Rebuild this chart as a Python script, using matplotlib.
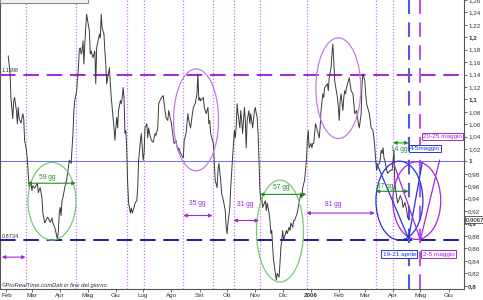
import pandas as pd
import matplotlib
matplotlib.use("Agg")
import matplotlib.pyplot as plt
import matplotlib.dates as mdates
from matplotlib.patches import Ellipse, Rectangle

plt.rcParams['font.family'] = ['Liberation Sans', 'DejaVu Sans']

# daily close, day = days since 1 Jan 2005
price_day = [33, 35, 36, 38, 39, 40, 42, 43, 44, 45, 47, 49, 50, 51, 53, 54, 56, 58, 59, 60,
             62, 65, 66, 68, 70, 71, 73, 76, 77, 79, 81, 82, 84, 87, 88, 89, 90, 91, 92, 93,
             95, 97, 99, 100, 102, 103, 104, 105, 106, 108, 110, 111, 112, 113, 114, 115, 116, 117, 118, 119,
             122, 123, 124, 126, 128, 129, 130, 133, 134, 135, 136, 138, 139, 140, 141, 144, 145, 146, 147, 149,
             150, 151, 152, 153, 154, 156, 157, 158, 159, 160, 161, 162, 163, 164, 165, 167, 168, 169, 171, 172,
             174, 175, 176, 178, 179, 180, 181, 182, 183, 185, 186, 187, 188, 190, 192, 193, 194, 195, 197, 198,
             201, 203, 204, 206, 208, 209, 212, 214, 215, 217, 219, 220, 222, 225, 226, 228, 230, 231, 233, 235,
             236, 238, 240, 241, 242, 243, 244, 247, 248, 250, 252, 253, 254, 255, 258, 259, 260, 262, 263, 264,
             266, 267, 269, 271, 272, 273, 274, 276, 277, 279, 281, 282, 283, 284, 285, 287, 288, 289, 290, 292,
             293, 294, 295, 297, 298, 299, 301, 303, 304, 305, 306, 307, 308, 309, 310, 311, 312, 315, 316, 317,
             319, 320, 321, 322, 323, 324, 326, 327, 328, 330, 331, 332, 333, 334, 335, 337, 338, 339, 341, 342,
             343, 345, 346, 347, 350, 351, 352, 354, 355, 356, 358, 360, 361, 362, 363, 365, 366, 367, 368, 369,
             370, 372, 374, 375, 376, 378, 379, 380, 383, 384, 385, 387, 388, 389, 390, 391, 394, 395, 396, 397,
             398, 400, 401, 402, 403, 404, 407, 408, 409, 411, 412, 413, 415, 417, 418, 420, 421, 422, 424, 425,
             426, 429, 430, 431, 433, 434, 435, 436, 437, 438, 440, 441, 442, 443, 444, 445, 446, 448, 449, 452,
             454, 455, 456, 457, 459, 460, 463, 465, 466, 468, 470, 471, 472]
price = [1.170, 1.143, 1.103, 1.069, 1.098, 1.103, 1.082, 1.061, 1.087, 1.069, 1.062, 1.077, 1.069, 1.034, 1.018, 1.002, 0.958, 0.966, 0.953, 0.961,
         0.957, 0.965, 0.950, 0.958, 0.942, 0.917, 0.901, 0.910, 0.909, 0.902, 0.909, 0.901, 0.894, 0.875, 0.889, 0.917, 0.926, 0.913, 0.937, 0.942,
         0.958, 0.970, 0.990, 1.002, 0.997, 1.022, 1.045, 1.082, 1.098, 1.114, 1.151, 1.181, 1.183, 1.173, 1.178, 1.194, 1.157, 1.189, 1.215, 1.237,
         1.210, 1.173, 1.178, 1.167, 1.178, 1.125, 1.183, 1.205, 1.199, 1.237, 1.215, 1.205, 1.178, 1.157, 1.125, 1.151, 1.125, 1.103, 1.087, 1.054,
         1.034, 1.054, 1.071, 1.054, 1.082, 1.098, 1.093, 1.103, 1.119, 1.103, 1.045, 1.050, 1.018, 0.965, 0.933, 0.917, 0.925, 0.917, 0.926, 0.933,
         0.937, 0.958, 1.002, 1.034, 1.045, 1.022, 1.002, 1.013, 1.054, 1.061, 1.038, 1.054, 1.045, 1.034, 1.031, 1.038, 1.045, 1.042, 1.054, 1.093,
         1.103, 1.106, 1.093, 1.071, 1.066, 1.082, 1.061, 1.038, 1.029, 1.034, 1.018, 1.022, 1.013, 1.006, 1.034, 1.045, 1.077, 1.066, 1.054, 1.077,
         1.087, 1.093, 1.109, 1.141, 1.098, 1.103, 1.098, 1.103, 1.087, 1.077, 1.087, 1.061, 1.066, 1.045, 1.029, 0.997, 0.970, 0.958, 0.986, 0.997,
         0.970, 0.949, 0.937, 0.921, 0.894, 0.884, 0.901, 0.926, 0.958, 1.006, 1.050, 1.038, 1.054, 1.093, 1.077, 1.054, 1.082, 1.066, 1.045, 1.087,
         1.066, 1.022, 1.066, 1.082, 1.061, 1.077, 1.054, 1.082, 1.087, 1.077, 1.071, 1.045, 1.002, 0.953, 0.937, 0.942, 0.926, 0.937, 0.921, 0.933,
         0.917, 0.905, 0.884, 0.889, 0.862, 0.841, 0.820, 0.809, 0.820, 0.814, 0.836, 0.862, 0.873, 0.889, 0.873, 0.884, 0.889, 0.884, 0.894, 0.889,
         0.901, 0.894, 0.905, 0.905, 0.917, 0.926, 0.933, 0.949, 0.942, 0.958, 0.970, 1.002, 1.034, 1.050, 1.022, 1.029, 1.022, 1.029, 1.029, 1.045,
         1.061, 1.050, 1.038, 1.054, 1.082, 1.109, 1.103, 1.119, 1.125, 1.114, 1.135, 1.151, 1.173, 1.189, 1.162, 1.130, 1.103, 1.087, 1.066, 1.098,
         1.109, 1.082, 1.103, 1.114, 1.109, 1.119, 1.135, 1.125, 1.114, 1.109, 1.093, 1.077, 1.082, 1.061, 1.054, 1.077, 1.125, 1.141, 1.130, 1.109,
         1.093, 1.077, 1.066, 1.054, 1.050, 1.038, 1.022, 1.002, 0.986, 0.994, 0.997, 1.005, 1.018, 1.013, 1.022, 1.006, 1.002, 0.986, 0.981, 0.986,
         0.986, 1.002, 1.018, 0.965, 0.942, 0.933, 0.945, 0.937, 0.926, 0.934, 0.921, 0.910, 0.9067]

resistance = 1.1398
support = 0.8734
last_price = 0.9067

# cycle lows / highs (dotted verticals)
cycle_dates = ['2005-02-23', '2005-04-18', '2005-06-13', '2005-07-02', '2005-08-14', '2005-09-16',
               '2005-10-09', '2005-11-06', '2005-12-28', '2006-03-13', '2006-04-01']
window_blue = '2006-04-18'
window_purple = '2006-05-01'

month_starts = pd.date_range('2005-02-01', '2006-06-01', freq='MS')
month_names = {1: 'Gen', 2: 'Feb', 3: 'Mar', 4: 'Apr', 5: 'Mag', 6: 'Giu', 7: 'Lug',
               8: 'Ago', 9: 'Set', 10: 'Ott', 11: 'Nov', 12: 'Dic'}

PURPLE = '#a326d9'
LPURPLE = '#c27ae6'
GREEN = '#1e8f1e'
LGREEN = '#79c879'
BLUE = '#2233dd'
DBLUE = '#1a1aa8'

base = pd.Timestamp('2005-01-01')
dates = base + pd.to_timedelta(price_day, unit='D')


def dn(s):
    return mdates.date2num(pd.Timestamp(s))


fig = plt.figure(figsize=(4.83, 3.0), dpi=100)
ax = fig.add_axes([0, 11 / 300, 464 / 483, 289 / 300])
ax.set_facecolor('white')

ax.plot(dates, price, color='#3a3a3a', lw=0.7, zorder=5)

# horizontal levels
ax.axhline(resistance, color=PURPLE, lw=1.4, dashes=(8, 4), zorder=3)
ax.axhline(support, color=DBLUE, lw=1.4, dashes=(8, 4), zorder=3)
ax.axhline(1.0, color='#6a6aff', lw=0.7, zorder=2)
ax.text(dn('2005-01-27'), resistance + 0.002, '1.1398', fontsize=4, color='#333333', va='bottom')
ax.text(dn('2005-01-27'), support + 0.002, '0.8734', fontsize=4, color='#333333', va='bottom')

for d in cycle_dates:
    ax.axvline(dn(d), color='#cc77ee', lw=0.9, ls=(0, (1, 1.5)), zorder=2)
ax.axvline(dn(window_blue), color='#5555e6', lw=1.5, dashes=(7, 4), zorder=4)
ax.axvline(dn(window_purple), color='#b45ae6', lw=1.5, dashes=(7, 4), zorder=4)

# ellipses round the turning zones
ellipses = [('2005-03-23', 0.936, 52.6, 0.125, LGREEN),
            ('2005-11-28', 0.888, 51.5, 0.164, LGREEN),
            ('2005-08-28', 1.067, 49.3, 0.164, LPURPLE),
            ('2006-01-31', 1.118, 49.3, 0.162, LPURPLE),
            ('2006-04-08', 0.937, 51.5, 0.127, BLUE),
            ('2006-04-27', 0.937, 52.6, 0.125, PURPLE)]
for c, v, w, h, col in ellipses:
    ax.add_patch(Ellipse((dn(c), v), w, h, fill=False, ec=col, lw=0.9, zorder=6))

# projection triangles
ax.plot([dn('2006-03-14'), dn(window_blue), dn('2006-05-03')], [0.997, 0.876, 0.998],
        color=BLUE, lw=0.9, zorder=6)
ax.plot([dn('2006-04-01'), dn(window_purple), dn('2006-05-22')], [1.0, 0.874, 1.002],
        color=PURPLE, lw=0.9, zorder=6)


def span(d1, d2, y, col, label=None, lx=None, ly=None):
    ax.annotate('', xy=(dn(d2), y), xytext=(dn(d1), y),
                arrowprops=dict(arrowstyle='<|-|>', color=col, lw=0.8,
                                mutation_scale=5, shrinkA=0, shrinkB=0), zorder=7)
    if label:
        ax.text(dn(lx), ly, label, fontsize=4.8, color=col, ha='center', va='center', zorder=7)


span('2005-01-27', '2005-02-22', 0.846, PURPLE)
span('2005-08-14', '2005-09-15', 0.913, PURPLE, '35 gg', '2005-08-29', 0.933)
span('2005-10-08', '2005-11-05', 0.905, PURPLE, '31 gg', '2005-10-21', 0.931)
span('2005-12-27', '2006-03-12', 0.917, PURPLE, '81 gg', '2006-01-25', 0.931)
span('2005-02-24', '2005-04-18', 0.965, GREEN, '59 gg', '2005-03-18', 0.974)
span('2005-11-06', '2005-12-27', 0.947, GREEN, '57 gg', '2005-11-29', 0.958)
span('2006-03-13', '2006-04-18', 0.952, GREEN, '37 gg', '2006-03-23', 0.960)
span('2006-04-01', '2006-04-18', 1.030, GREEN, '14 gg', '2006-04-08', 1.019)


def box(d, y, s, col):
    ax.text(dn(d), y, s, fontsize=4.6, color=col, ha='center', va='center', zorder=8,
            bbox=dict(boxstyle='square,pad=0.2', fc='white', ec=col, lw=0.7))


box('2006-05-25', 1.040, '20-25 maggio', PURPLE)
box('2006-05-06', 1.021, '4-5maggio', BLUE)
box('2006-04-08', 0.851, '19-21 aprile', BLUE)
box('2006-05-21', 0.851, '2-5 maggio', PURPLE)

ax.text(0.004, 0.006, '\u00a9ProRealTime.com', transform=ax.transAxes, fontsize=4.2,
        style='italic', color='#333333')
ax.text(0.112, 0.006, 'Dati in fine del giorno', transform=ax.transAxes, fontsize=4.2,
        style='italic', color='#333333')
ax.add_patch(Rectangle((0, 0.988), 0.19, 0.03, transform=ax.transAxes, fc='#f2f2f2',
                       ec='#888888', lw=0.8, clip_on=False, zorder=9))

# axes
ax.set_xlim(base + pd.Timedelta(days=24), base + pd.Timedelta(days=532.8))
ax.set_ylim(0.7947, 1.2582)
ax.set_xticks(month_starts)
ax.set_xticklabels(['2006' if d.month == 1 else month_names[d.month] for d in month_starts])
for lab, d in zip(ax.get_xticklabels(), month_starts):
    if d.month == 1:
        lab.set_fontweight('bold')

yt = [round(0.8 + 0.02 * i, 2) for i in range(24)]
ax.yaxis.tick_right()
ax.set_yticks(yt)
ax.set_yticklabels([('%g' % v).replace('.', ',') for v in yt])
for lab, v in zip(ax.get_yticklabels(), yt):
    if abs(v * 10 - round(v * 10)) < 1e-6:
        lab.set_fontweight('bold')
ax.tick_params(axis='both', labelsize=4.5, length=2, width=0.5, pad=1, colors='#333333')
for s in ['left', 'right', 'bottom']:
    ax.spines[s].set_color('#555555')
    ax.spines[s].set_linewidth(0.8)
ax.spines['top'].set_visible(False)

ax.text(1.004, last_price, '0,9067', transform=ax.get_yaxis_transform(), fontsize=4.3,
        ha='left', va='center', clip_on=False, zorder=10,
        bbox=dict(boxstyle='square,pad=0.2', fc='white', ec='#222222', lw=0.5))

fig.savefig('out.png', dpi=100)
